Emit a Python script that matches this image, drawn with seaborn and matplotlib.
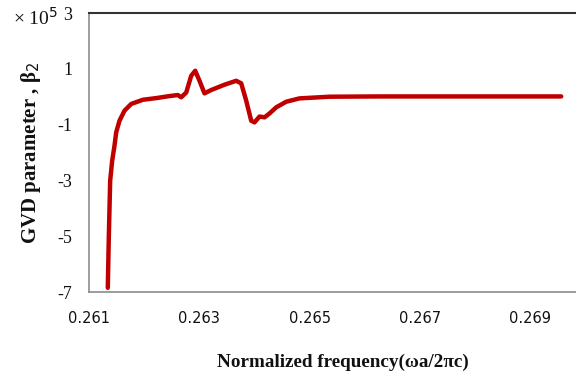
import matplotlib
matplotlib.use("Agg")
import matplotlib.pyplot as plt
import seaborn as sns
import pandas as pd

# Normalized frequency (omega a / 2 pi c)
freq = [0.261341, 0.261359, 0.261384, 0.261420, 0.261462, 0.261493,
        0.261553, 0.261644, 0.261765, 0.261976, 0.262218, 0.262450,
        0.262610, 0.262672, 0.262763, 0.262853, 0.262926, 0.263004,
        0.263094, 0.263216, 0.263457, 0.263669, 0.263760, 0.263850,
        0.263941, 0.264001, 0.264092, 0.264183, 0.264273, 0.264395,
        0.264576, 0.264817, 0.265361, 0.266268, 0.267540, 0.268800,
        0.269562]
# GVD parameter beta_2 (x 1e5)
gvd = [-6.85, -5.04, -3.01, -2.30, -1.76, -1.28,
       -0.86, -0.50, -0.26, -0.11, -0.05, 0.02,
       0.06, -0.02, 0.15, 0.75, 0.93, 0.57,
       0.12, 0.24, 0.43, 0.57, 0.48, -0.14,
       -0.86, -0.92, -0.71, -0.74, -0.60, -0.38,
       -0.18, -0.06, 0.00, 0.01, 0.01, 0.01,
       0.01]

xticks = [0.261, 0.263, 0.265, 0.267, 0.269]
yticks = [-7, -5, -3, -1, 1, 3]

sns.set_theme(style="white")
df = pd.DataFrame({"freq": freq, "gvd": gvd})

fig = plt.figure(figsize=(5.76, 3.76), dpi=100)
ax = fig.add_axes([0.1545, 0.2234, 0.8455, 0.742])

sns.lineplot(data=df, x="freq", y="gvd", ax=ax, color="#C00000",
             linewidth=3.2, sort=False, solid_joinstyle="round",
             solid_capstyle="round")

ax.set_xlim(0.261, 0.26983)
ax.set_ylim(-7, 3)
ax.set_xticks(xticks)
ax.set_xticklabels([f"{t:.3f}" for t in xticks], fontfamily="DejaVu Sans",
                   fontsize=10.5, color="#111111")
ax.set_yticks(yticks)
ax.set_yticklabels([str(t) for t in yticks], fontfamily="Liberation Serif",
                   fontsize=13, color="#111111")

ax.tick_params(axis="both", direction="in", length=5, width=1,
               color="#8c8c8c", pad=12)
ax.tick_params(axis="x", pad=14)

for side in ["left", "bottom"]:
    ax.spines[side].set_color("#8c8c8c")
    ax.spines[side].set_linewidth(1.2)
ax.spines["top"].set_color("#333333")
ax.spines["top"].set_linewidth(1.5)
ax.spines["right"].set_visible(False)

ax.set_xlabel("Normalized frequency(\u03c9a/2\u03c0c)", fontfamily="Liberation Serif",
              fontweight="bold", fontsize=13.8, color="#111111")
ax.xaxis.set_label_coords(0.522, -0.22)
ax.set_ylabel("GVD parameter , \u03b2$_2$", fontfamily="Liberation Serif",
              fontweight="bold", fontsize=15, labelpad=10, color="#111111")

fig.text(0.022, 0.953, "\u00d7 10$^{5}$", fontfamily="Liberation Serif",
         fontsize=14, color="#111111", va="center", ha="left")

fig.savefig("out.png", dpi=100, facecolor="white")
